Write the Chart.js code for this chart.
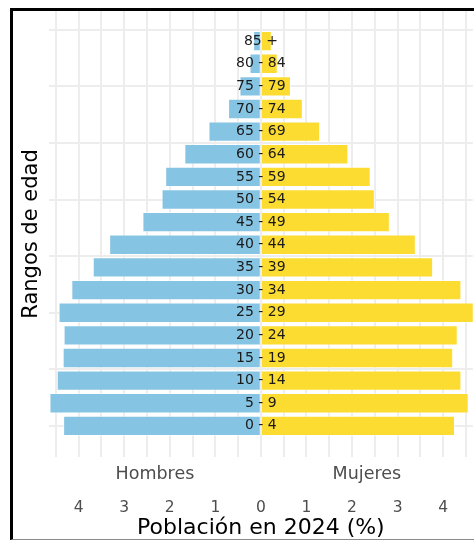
<!DOCTYPE html>
<html lang="es">
<head>
<meta charset="utf-8">
<title>Pirámide de población 2024</title>
<script src="https://cdn.jsdelivr.net/npm/chart.js@4/dist/chart.umd.min.js"></script>
<style>
  html, body { margin: 0; padding: 0; background: #fff; width: 474px; height: 540px; overflow: hidden; }
  #marco {
    position: absolute; left: 10px; top: 8px; width: 480px; height: 528px;
    border-top: 3px solid #000; border-left: 3px solid #000; border-bottom: 1px solid #8a8a8a;
  }
  #pyramid { display: block; }
</style>
</head>
<body>
<div id="marco"><canvas id="pyramid" width="463" height="528"></canvas></div>
<script>
// rangos de edad (de abajo hacia arriba)
const ageGroups = ['0 - 4', '5 - 9', '10 - 14', '15 - 19', '20 - 24', '25 - 29', '30 - 34', '35 - 39',
  '40 - 44', '45 - 49', '50 - 54', '55 - 59', '60 - 64', '65 - 69', '70 - 74', '75 - 79', '80 - 84', '85 +'];

// % de población 2024
const hombres = [4.34, 4.64, 4.48, 4.35, 4.33, 4.44, 4.16, 3.69, 3.33, 2.60, 2.18, 2.10, 1.68, 1.15, 0.72, 0.47, 0.25, 0.17];
const mujeres = [4.26, 4.56, 4.40, 4.22, 4.32, 4.70, 4.40, 3.78, 3.40, 2.83, 2.50, 2.41, 1.92, 1.30, 0.92, 0.66, 0.37, 0.24];

const sexLabels = ['Hombres', 'Mujeres'];
const xTickValues = [-4.5, -4, -3.5, -3, -2.5, -2, -1.5, -1, -0.5, 0, 0.5, 1, 1.5, 2, 2.5, 3, 3.5, 4, 4.5];
const yGridValues = [0, 2.5, 5, 7.5, 10, 12.5, 15, 17.5];

const FONT = "'DejaVu Sans', Verdana, sans-serif";
const gridColor = '#ededed';

// etiquetas de edad en el centro
const ageLabelPlugin = {
  id: 'ageLabels',
  afterDatasetsDraw(chart) {
    const { ctx, scales } = chart;
    const x0 = scales.x.getPixelForValue(0);
    ctx.save();
    ctx.font = '14px ' + FONT;
    ctx.fillStyle = '#1a1a1a';
    ctx.textAlign = 'center';
    ctx.textBaseline = 'middle';
    ageGroups.forEach((g, i) => ctx.fillText(g, x0, scales.y.getPixelForValue(i)));
    ctx.restore();
  }
};

new Chart(document.getElementById('pyramid'), {
  type: 'bar',
  data: {
    datasets: [
      {
        label: 'Hombres',
        data: ageGroups.map((g, i) => ({ y: i, x: -hombres[i] })),
        backgroundColor: '#86c4e3',
        borderColor: 'rgba(255,255,255,0.5)',
        borderWidth: 1,
        xAxisID: 'x', yAxisID: 'y'
      },
      {
        label: 'Mujeres',
        data: ageGroups.map((g, i) => ({ y: i, x: mujeres[i] })),
        backgroundColor: '#fddc32',
        borderColor: 'rgba(255,255,255,0.5)',
        borderWidth: 1,
        xAxisID: 'x', yAxisID: 'y'
      }
    ]
  },
  options: {
    indexAxis: 'y',
    responsive: false,
    animation: false,
    categoryPercentage: 1,
    barPercentage: 0.9,
    layout: { padding: 0 },
    plugins: { legend: { display: false }, tooltip: { enabled: false } },
    scales: {
      x: {
        type: 'linear',
        position: 'bottom',
        weight: 1,
        stacked: true,
        min: -4.65,
        max: 4.65,
        afterBuildTicks: s => { s.ticks = xTickValues.map(v => ({ value: v })); },
        afterFit: s => { s.height = 50; },
        grid: { color: gridColor, lineWidth: 2, drawTicks: false },
        border: { display: false },
        ticks: {
          padding: 10,
          color: '#4d4d4d',
          font: { family: FONT, size: 15.5 },
          maxRotation: 0,
          autoSkip: false,
          callback: v => Number.isInteger(v) ? Math.abs(v) : ''
        },
        title: {
          display: true,
          text: 'Población en 2024 (%)',
          color: '#000',
          font: { family: FONT, size: 22, lineHeight: 1 },
          padding: { top: 0, bottom: 0 }
        }
      },
      y: {
        type: 'linear',
        stacked: true,
        offset: false,
        min: -1.376,
        max: 18.33,
        afterBuildTicks: s => { s.ticks = yGridValues.map(v => ({ value: v })); },
        afterFit: s => { s.width = 36; },
        grid: { color: gridColor, lineWidth: 2, drawTicks: false, offset: false },
        border: { display: false },
        ticks: { display: false },
        title: {
          display: true,
          text: 'Rangos de edad',
          color: '#000',
          font: { family: FONT, size: 21, lineHeight: 1 },
          padding: { top: 8, bottom: 0 }
        }
      },
      sexo: {
        axis: 'x',
        type: 'category',
        labels: sexLabels,
        position: 'bottom',
        weight: 0,
        offset: true,
        afterFit: s => { s.height = 32; },
        grid: { display: false, drawTicks: false },
        border: { display: false },
        ticks: {
          padding: 6.5,
          color: '#4d4d4d',
          font: { family: FONT, size: 17.5 },
          maxRotation: 0
        }
      }
    }
  },
  plugins: [ageLabelPlugin]
});
</script>
</body>
</html>
